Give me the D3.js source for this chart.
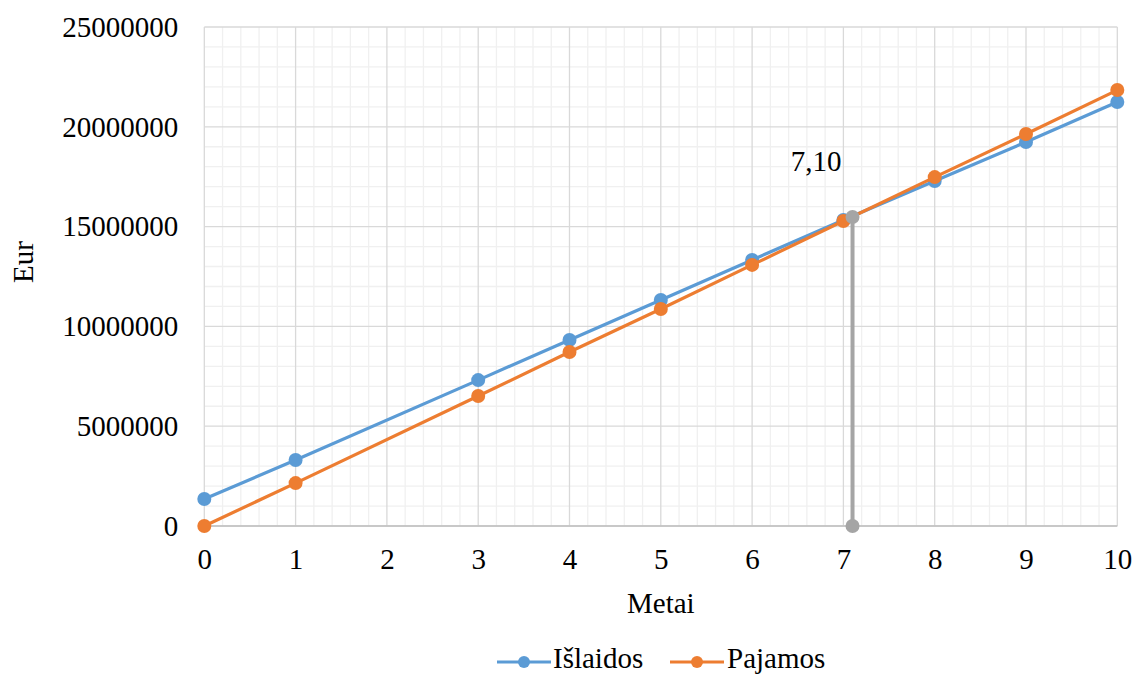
<!DOCTYPE html>
<html><head><meta charset="utf-8">
<script src="https://cdn.jsdelivr.net/npm/d3@7"></script>
<style>body{margin:0;background:#fff}</style>
</head><body>
<svg id="c" width="1132" height="675"></svg>
<script>
const years = [0, 1, 3, 4, 5, 6, 7, 8, 9, 10];
const islaidos = [1350000, 3310000, 7310000, 9320000, 11320000, 13330000, 15330000, 17280000, 19240000, 21240000];
const pajamos = [0, 2150000, 6510000, 8720000, 10870000, 13080000, 15280000, 17480000, 19640000, 21840000];
const breakEven = [{x: 7.1, y: 15480000}, {x: 7.1, y: 0}];
const breakEvenLabel = "7,10";
const xTicks = [0,1,2,3,4,5,6,7,8,9,10];
const yTicks = [0,5000000,10000000,15000000,20000000,25000000];
const seriesNames = ["Išlaidos", "Pajamos"];
const colors = ["#5b9bd5", "#ed7d31"];
const grayColor = "#a5a5a5";
const FONT = "'Liberation Serif', 'Times New Roman', Times, serif";
const FS = "29px";

const svg = d3.select("#c").style("font-family", FONT);
const L = 204.3, R = 1117.3, T = 27, B = 526;
const x = d3.scaleLinear().domain([0,10]).range([L,R]);
const y = d3.scaleLinear().domain([0,25000000]).range([B,T]);

const g = svg.append("g");
const minorX = d3.range(0, 10.001, 0.2).filter(v => Math.abs(v - Math.round(v)) > 1e-6);
const minorY = d3.range(0, 25000001, 1000000).filter(v => v % 5000000 !== 0);
g.selectAll(".mx").data(minorX).join("line").attr("x1", d=>x(d)).attr("x2", d=>x(d)).attr("y1", T).attr("y2", B).attr("stroke", "#f0f0f0").attr("stroke-width", 1.3);
g.selectAll(".my").data(minorY).join("line").attr("y1", d=>y(d)).attr("y2", d=>y(d)).attr("x1", L).attr("x2", R).attr("stroke", "#f0f0f0").attr("stroke-width", 1.3);
g.selectAll(".Mx").data(xTicks).join("line").attr("x1", d=>x(d)).attr("x2", d=>x(d)).attr("y1", T).attr("y2", B).attr("stroke", "#d9d9d9").attr("stroke-width", 1.3);
g.selectAll(".My").data(yTicks).join("line").attr("y1", d=>y(d)).attr("y2", d=>y(d)).attr("x1", L).attr("x2", R).attr("stroke", "#d9d9d9").attr("stroke-width", 1.3);
g.append("line").attr("x1", L).attr("x2", R).attr("y1", B).attr("y2", B).attr("stroke", "#bfbfbf").attr("stroke-width", 1.5);

const xAxis = svg.append("g").attr("transform", `translate(0,${B})`)
  .call(d3.axisBottom(x).tickValues(xTicks).tickSize(0).tickPadding(22).tickFormat(d3.format("d")));
xAxis.attr("font-family", null).attr("font-size", null);
xAxis.select(".domain").remove();
xAxis.selectAll("text").style("font-family", FONT).style("font-size", FS).attr("fill", "#000");
const yAxis = svg.append("g").attr("transform", `translate(${L},0)`)
  .call(d3.axisLeft(y).tickValues(yTicks).tickSize(0).tickPadding(26).tickFormat(d3.format("d")));
yAxis.attr("font-family", null).attr("font-size", null);
yAxis.select(".domain").remove();
yAxis.selectAll("text").style("font-family", FONT).style("font-size", FS).attr("fill", "#000");

const data = [islaidos, pajamos];
const line = d3.line().x((d,i)=>x(years[i])).y(d=>y(d));
data.forEach((vals, si) => {
  svg.append("path").datum(vals).attr("d", line).attr("fill", "none").attr("stroke", colors[si]).attr("stroke-width", 3.2);
  svg.selectAll(".p"+si).data(vals).join("circle").attr("cx", (d,i)=>x(years[i])).attr("cy", d=>y(d)).attr("r", 7).attr("fill", colors[si]);
});
svg.append("path").datum(breakEven).attr("d", d3.line().x(d=>x(d.x)).y(d=>y(d.y))).attr("stroke", grayColor).attr("stroke-width", 4).attr("fill","none");
svg.selectAll(".be").data(breakEven).join("circle").attr("cx", d=>x(d.x)).attr("cy", d=>y(d.y)).attr("r", 7).attr("fill", grayColor);

function txt(sel) { return sel.style("font-family", FONT).style("font-size", FS).attr("fill", "#000"); }
txt(svg.append("text").attr("x", 816).attr("y", 171).attr("text-anchor", "middle").text(breakEvenLabel));
txt(svg.append("text").attr("x", (L+R)/2).attr("y", 613).attr("text-anchor", "middle").text("Metai"));
txt(svg.append("text").attr("transform", "translate(33,262) rotate(-90)").attr("text-anchor", "middle").text("Eur"));

const leg = [{x: 497, tx: 553}, {x: 670, tx: 727}];
seriesNames.forEach((n, i) => {
  const lg = svg.append("g");
  lg.append("line").attr("x1", leg[i].x).attr("x2", leg[i].x + 54).attr("y1", 662).attr("y2", 662).attr("stroke", colors[i]).attr("stroke-width", 3.2);
  lg.append("circle").attr("cx", leg[i].x + 27).attr("cy", 662).attr("r", 6).attr("fill", colors[i]);
  txt(lg.append("text").attr("x", leg[i].tx).attr("y", 668).text(n));
});
</script>
</body></html>
